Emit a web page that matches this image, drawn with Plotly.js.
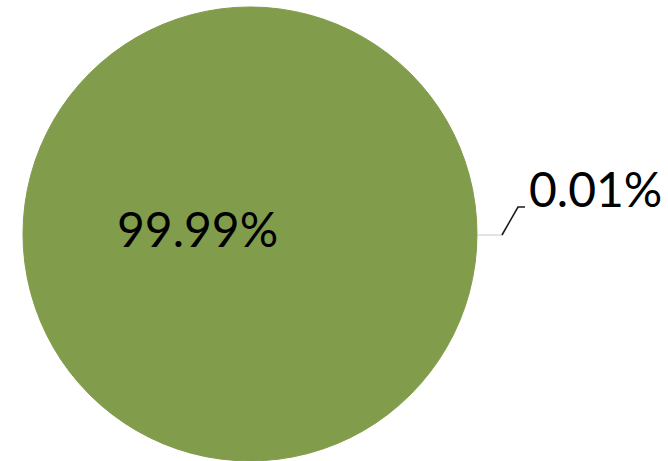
<!DOCTYPE html>
<html>
<head>
<meta charset="utf-8">
<script src="https://cdn.plot.ly/plotly-3.0.1.min.js"></script>
<style>html,body{margin:0;padding:0;background:#fff;}#chart{width:668px;height:461px;}</style>
</head>
<body>
<div id="chart"></div>
<script>
const labels = ['Small share', 'Large share'];
const values = [0.01, 99.99];
const colors = ['#819C4A', '#819C4A'];

const W = 668, H = 461;
const px = x => x / W;
const py = y => (H - y) / H;

const total = values.reduce((a, b) => a + b, 0);
const pctText = values.map(v => (v / total * 100).toFixed(2) + '%');

const trace = {
  type: 'pie',
  labels: labels,
  values: values,
  sort: false,
  direction: 'clockwise',
  rotation: 90,
  marker: {colors: colors, line: {color: '#819C4A', width: 1}},
  textinfo: 'none',
  hoverinfo: 'none',
  showlegend: false,
  domain: {x: [22 / W, 478 / W], y: [0, 454 / H]}
};

const font = {family: 'Lato, sans-serif', size: 48, color: '#000000'};

const layout = {
  width: W,
  height: H,
  margin: {l: 0, r: 0, t: 0, b: 0},
  paper_bgcolor: '#ffffff',
  plot_bgcolor: '#ffffff',
  showlegend: false,
  annotations: [
    {xref: 'paper', yref: 'paper', x: px(197), y: py(228), xanchor: 'center', yanchor: 'middle',
     text: pctText[1], showarrow: false, font: font},
    {xref: 'paper', yref: 'paper', x: px(595), y: py(188), xanchor: 'center', yanchor: 'middle',
     text: pctText[0], showarrow: false, font: font}
  ],
  shapes: [
    {type: 'line', xref: 'paper', yref: 'paper', x0: px(478), y0: py(235), x1: px(502), y1: py(235),
     line: {color: '#c8c8c8', width: 1}},
    {type: 'path', xref: 'paper', yref: 'paper',
     path: 'M ' + px(502) + ',' + py(235) + ' L ' + px(518) + ',' + py(207) + ' L ' + px(525) + ',' + py(207),
     line: {color: '#1a1a1a', width: 1.6}}
  ]
};

Plotly.newPlot('chart', [trace], layout, {displayModeBar: false, staticPlot: true});
</script>
</body>
</html>
